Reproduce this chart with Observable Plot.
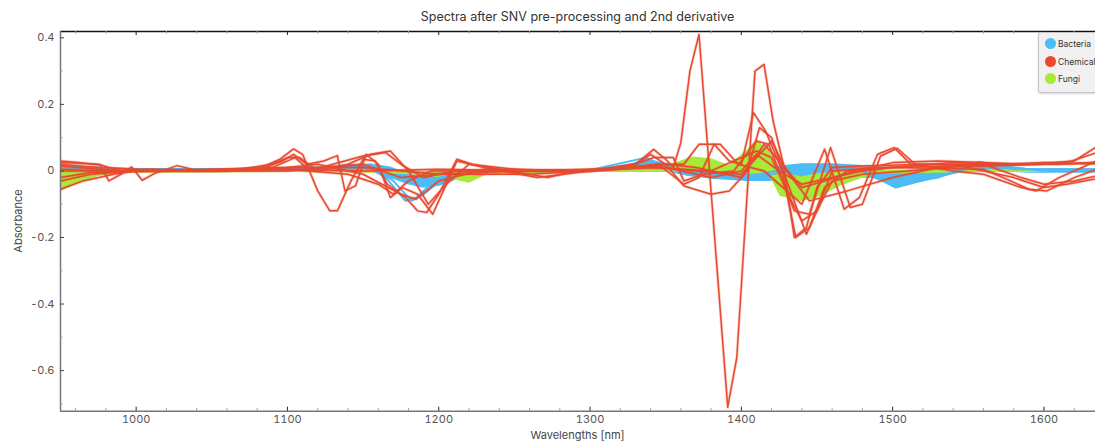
<!DOCTYPE html>
<html><head><meta charset="utf-8">
<script src="https://cdn.jsdelivr.net/npm/d3@7"></script>
<script src="https://cdn.jsdelivr.net/npm/@observablehq/plot@0.6"></script>
<style>
html,body{margin:0;padding:0;background:#fff;overflow:hidden;}
#wrap{position:relative;width:1095px;height:443px;overflow:hidden;font-family:Inter,"Open Sans",sans-serif;}
#chart{position:absolute;left:0;top:0;}
#chart svg{max-width:none !important;}
#title{position:absolute;left:0;width:1155px;top:9px;text-align:center;font-size:12.5px;color:#333;}
#xlab{position:absolute;left:0;width:1155px;top:428px;text-align:center;font-size:11px;color:#444;}
#ylab{position:absolute;left:18px;top:221px;font-size:11px;color:#444;transform:translate(-50%,-50%) rotate(-90deg);white-space:nowrap;}
#legend{position:absolute;left:1038px;top:32px;width:90px;height:59px;background:#f1f1f1;border:1px solid #c4c4c4;border-radius:3px;box-shadow:0 1px 2px rgba(0,0,0,0.15);}
.item{position:absolute;left:6px;height:12px;font-size:8.5px;color:#333;line-height:12px;white-space:nowrap;}
.dot{display:inline-block;width:11px;height:11px;border-radius:50%;vertical-align:middle;margin-right:2px;position:relative;top:-1px;}
</style></head>
<body><div id="wrap">
<div id="chart"></div>
<div id="title">Spectra after SNV pre-processing and 2nd derivative</div>
<div id="xlab">Wavelengths [nm]</div>
<div id="ylab">Absorbance</div>
<div id="legend"></div>
</div>
<script>
// ---- categories & colours ----
const categories = ["Bacteria", "Chemical", "Fungi"];
const colors = ["#4dbcf6", "#e8492f", "#a8ea38"];

// ---- axis ticks / domains ----
const xDomain = [950, 1650];
const yDomain = [-0.722, 0.419];
const xMajor = [1000, 1100, 1200, 1300, 1400, 1500, 1600];
const xMinor = [960, 980, 1020, 1040, 1060, 1080, 1120, 1140, 1160, 1180, 1220, 1240, 1260, 1280, 1320, 1340, 1360, 1380, 1420, 1440, 1460, 1480, 1520, 1540, 1560, 1580, 1620, 1640];
const yMajor = [0.4, 0.2, 0, -0.2, -0.4, -0.6];
const yMinor = [0.3, 0.1, -0.1, -0.3, -0.5, -0.7];

// ---- Bacteria envelope (many overlapping spectra) ----
const bactW  = [950, 970, 1000, 1100, 1140, 1155, 1168, 1180, 1190, 1200, 1215, 1240, 1300, 1325, 1338, 1350, 1365, 1385, 1405, 1420, 1440, 1460, 1478, 1487, 1495, 1501, 1512, 1525, 1540, 1550, 1558, 1570, 1590, 1650];
const bactHi = [0.015, 0.01, 0.005, 0.005, 0.01, 0.02, 0.01, -0.01, -0.02, -0.012, -0.003, 0.0, 0.003, 0.015, 0.035, 0.02, 0.01, 0.0, 0.0, 0.01, 0.02, 0.02, 0.015, 0.008, 0.0, -0.01, -0.005, 0.0, 0.01, 0.02, 0.027, 0.015, 0.005, 0.005];
const bactLo = [0.0, -0.003, -0.003, -0.003, 0.0, 0.0, -0.02, -0.04, -0.05, -0.045, -0.02, -0.005, -0.003, 0.0, 0.01, 0.0, -0.015, -0.025, -0.03, -0.03, -0.025, -0.025, -0.02, -0.02, -0.035, -0.05, -0.04, -0.025, -0.01, 0.0, 0.005, 0.0, -0.005, -0.005];

// ---- Fungi envelope ----
const fungW  = [950, 960, 975, 990, 1100, 1160, 1190, 1210, 1220, 1232, 1300, 1340, 1355, 1368, 1380, 1392, 1404, 1410, 1418, 1426, 1440, 1450, 1465, 1480, 1490, 1560, 1650];
const fungHi = [0.02, 0.01, 0.003, 0.002, 0.003, 0.0, -0.003, -0.003, -0.005, -0.002, 0.003, 0.005, 0.02, 0.04, 0.035, 0.015, 0.06, 0.09, 0.06, -0.005, -0.02, -0.01, -0.005, -0.005, 0.0, 0.002, 0.002];
const fungLo = [-0.06, -0.04, -0.015, -0.005, -0.003, -0.005, -0.012, -0.025, -0.035, -0.01, -0.002, -0.003, -0.003, 0.0, -0.005, -0.01, -0.01, -0.01, -0.005, -0.075, -0.09, -0.08, -0.045, -0.02, -0.008, -0.003, -0.003];

// ---- Bacteria single spectra ----
const bact1 = [[950,0.015],[1000,0.005],[1100,0.005],[1150,0.02],[1165,-0.02],[1178,-0.09],[1185,-0.08],[1200,-0.02],[1230,0.0],[1300,0.003],[1337,0.04],[1350,0.01],[1380,-0.015],[1420,-0.01],[1440,0.01],[1480,0.0],[1500,-0.045],[1530,-0.02],[1558,0.025],[1580,0.005],[1650,0.005]];
const bact2 = [[950,0.01],[1000,0.003],[1100,0.004],[1155,0.015],[1170,-0.03],[1182,-0.09],[1190,-0.07],[1205,-0.015],[1240,0.0],[1300,0.0],[1340,0.03],[1360,0.0],[1400,-0.02],[1440,0.015],[1485,0.005],[1502,-0.05],[1535,-0.01],[1560,0.02],[1600,0.0],[1650,0.0]];

// ---- Chemical spectra ----
const chem1 = [[950,0.005],[980,0.0],[1050,0.0],[1100,0.005],[1150,0.0],[1200,0.005],[1260,0.0],[1310,0.005],[1330,0.02],[1342,0.065],[1350,0.035],[1355,0.01],[1360,0.085],[1366,0.30],[1372,0.41],[1391,-0.71],[1397,-0.56],[1409,0.30],[1415,0.32],[1421,0.15],[1428,0.015],[1435,-0.2],[1443,-0.17],[1450,-0.05],[1460,0.01],[1480,0.015],[1520,0.02],[1560,0.015],[1600,0.02],[1650,0.025]];
const chem2 = [[950,0.03],[962,0.025],[976,0.018],[982,-0.03],[990,-0.01],[997,0.012],[1004,-0.028],[1012,-0.008],[1027,0.016],[1040,0.002],[1080,0.005],[1095,0.035],[1104,0.066],[1110,0.05],[1120,-0.06],[1128,-0.12],[1133,-0.12],[1142,-0.03],[1150,0.035],[1158,0.03],[1166,-0.04],[1178,-0.08],[1186,-0.12],[1192,-0.125],[1200,-0.07],[1212,0.035],[1222,0.02],[1240,0.005],[1272,-0.02],[1290,0.0],[1330,0.01],[1345,0.02],[1362,-0.04],[1372,-0.02],[1382,0.08],[1392,0.03],[1400,0.02],[1408,0.175],[1416,0.12],[1427,0.0],[1436,-0.2],[1445,-0.17],[1455,-0.05],[1470,0.0],[1500,0.01],[1560,0.005],[1578,-0.03],[1590,-0.055],[1602,-0.06],[1620,-0.02],[1650,0.03]];
const chem3 = [[950,-0.055],[965,-0.03],[985,-0.01],[1000,0.0],[1050,0.002],[1085,0.01],[1097,0.03],[1104,0.05],[1113,0.02],[1124,0.03],[1133,0.046],[1138,-0.06],[1145,-0.045],[1152,0.05],[1160,0.02],[1168,-0.08],[1176,-0.05],[1186,-0.07],[1196,-0.13],[1203,-0.06],[1212,0.03],[1230,0.01],[1265,-0.02],[1300,0.0],[1330,0.02],[1340,0.05],[1350,0.02],[1362,-0.045],[1380,-0.07],[1392,-0.06],[1404,0.0],[1412,0.13],[1420,0.1],[1430,-0.03],[1443,-0.19],[1450,-0.12],[1460,0.0],[1490,0.01],[1550,0.015],[1590,0.02],[1620,0.03],[1634,0.07],[1650,0.08]];
const chem4 = [[950,0.02],[975,0.01],[1000,0.005],[1050,0.0],[1100,0.01],[1120,0.02],[1150,-0.01],[1175,-0.07],[1185,-0.085],[1200,-0.03],[1230,0.005],[1300,0.0],[1345,0.02],[1362,0.02],[1372,0.08],[1386,0.08],[1398,0.02],[1415,0.0],[1430,-0.06],[1440,-0.1],[1455,0.065],[1468,-0.115],[1478,-0.08],[1490,0.05],[1501,0.07],[1512,0.02],[1540,0.02],[1570,0.02],[1600,0.025],[1650,0.02]];
const chem5 = [[950,0.015],[990,0.0],[1060,0.0],[1090,0.02],[1100,0.04],[1108,0.04],[1120,0.0],[1140,0.02],[1155,0.05],[1168,0.06],[1180,0.0],[1193,-0.1],[1205,-0.04],[1220,0.02],[1260,0.0],[1300,0.0],[1330,0.02],[1342,0.04],[1355,0.04],[1362,-0.03],[1375,-0.01],[1395,0.0],[1410,0.09],[1418,0.08],[1425,0.0],[1435,-0.12],[1445,-0.13],[1459,0.07],[1472,-0.11],[1480,-0.1],[1492,0.045],[1503,0.068],[1515,0.02],[1540,0.0],[1560,-0.01],[1585,-0.05],[1595,-0.06],[1610,-0.02],[1630,0.02],[1650,0.06]];
const chem6 = [[950,0.0],[1000,0.0],[1100,0.01],[1150,0.01],[1200,-0.01],[1250,0.0],[1300,0.005],[1350,0.01],[1380,-0.02],[1400,0.0],[1410,0.05],[1425,0.0],[1440,-0.04],[1460,-0.02],[1480,0.0],[1500,0.01],[1540,0.025],[1580,0.02],[1610,0.02],[1650,0.03]];
const chem7 = [[950,-0.02],[970,-0.005],[1000,0.0],[1100,0.0],[1150,0.02],[1175,-0.02],[1200,-0.01],[1260,-0.01],[1300,0.0],[1340,0.015],[1370,0.0],[1400,-0.01],[1420,0.09],[1430,0.0],[1445,-0.09],[1470,-0.06],[1500,-0.02],[1530,0.01],[1560,0.02],[1585,-0.02],[1600,-0.04],[1620,-0.03],[1650,0.0]];
const chem8 = [[950,0.025],[975,0.02],[990,0.0],[1010,0.005],[1040,0.0],[1090,0.01],[1105,0.04],[1115,0.0],[1130,0.02],[1150,0.045],[1165,0.055],[1175,0.02],[1190,-0.02],[1210,0.0],[1250,0.005],[1300,0.0],[1330,0.01],[1350,0.02],[1370,0.01],[1400,-0.02],[1415,0.08],[1425,0.03],[1440,-0.05],[1455,-0.03],[1475,0.0],[1500,0.025],[1530,0.03],[1560,0.025],[1590,0.02],[1615,0.025],[1635,0.055],[1650,0.06]];
const chem9 = [[950,-0.03],[970,-0.01],[1000,0.0],[1100,0.005],[1140,-0.01],[1160,-0.04],[1170,-0.07],[1180,-0.03],[1195,0.0],[1250,0.0],[1300,0.0],[1340,0.01],[1380,0.0],[1410,0.06],[1420,0.04],[1432,-0.08],[1440,-0.15],[1450,-0.12],[1460,-0.03],[1480,-0.01],[1510,0.0],[1545,0.015],[1580,-0.02],[1600,-0.05],[1615,-0.04],[1650,-0.01]];

// ---- build tidy tables ----
const toRows = (arr, id) => arr.map(([w, v]) => ({w, v, id}));
const bactRows = [...toRows(bact1, "b1"), ...toRows(bact2, "b2")];
const chemSeries = [chem1, chem2, chem3, chem4, chem5, chem6, chem7, chem8, chem9];
const chemRows = chemSeries.flatMap((s, i) => toRows(s, "c" + i));
const bactBand = bactW.map((w, i) => ({w, lo: bactLo[i], hi: bactHi[i]}));
const fungBand = fungW.map((w, i) => ({w, lo: fungLo[i], hi: fungHi[i]}));

const W = 1140, H = 443, mL = 60, mT = 31, mB = 32.3;
const mR = W - (mL + (xDomain[1] - xDomain[0]) * 1.513);
const plotH = H - mT - mB, plotW = W - mL - mR;

const chart = Plot.plot({
  width: W, height: H,
  marginLeft: mL, marginRight: mR, marginTop: mT, marginBottom: mB,
  x: {domain: xDomain, axis: null},
  y: {domain: yDomain, axis: null},
  style: {fontFamily: "Inter, 'Open Sans', sans-serif", fontSize: "11px", color: "#555", background: "transparent", maxWidth: "none"},
  marks: [
    Plot.areaY(bactBand, {x: "w", y1: "lo", y2: "hi", fill: colors[0], stroke: colors[0], strokeWidth: 1.2, clip: true}),
    Plot.areaY(fungBand, {x: "w", y1: "lo", y2: "hi", fill: colors[2], stroke: colors[2], strokeWidth: 1.2, clip: true}),
    Plot.line(bactRows, {x: "w", y: "v", z: "id", stroke: colors[0], strokeWidth: 2, clip: true}),
    Plot.line(chemRows, {x: "w", y: "v", z: "id", stroke: colors[1], strokeWidth: 3, strokeOpacity: 0.25, clip: true}),
    Plot.line(chemRows, {x: "w", y: "v", z: "id", stroke: colors[1], strokeWidth: 1.5, clip: true}),
    // frame lines
    Plot.ruleY([yDomain[1]], {stroke: "#111", strokeWidth: 1.5}),
    Plot.ruleX([xDomain[0]], {stroke: "#777", strokeWidth: 1.5}),
    Plot.ruleY([yDomain[0]], {stroke: "#777", strokeWidth: 1.5}),
    // inward ticks
    Plot.tickX(xMajor, {x: d => d, stroke: "#222", insetTop: plotH - 4}),
    Plot.tickX(xMinor, {x: d => d, stroke: "#999", insetTop: plotH - 2.5}),
    Plot.tickX(xMajor, {x: d => d, stroke: "#222", insetBottom: plotH - 4}),
    Plot.tickX(xMinor, {x: d => d, stroke: "#999", insetBottom: plotH - 2.5}),
    Plot.tickY(yMajor, {y: d => d, stroke: "#444", insetRight: plotW - 4}),
    Plot.tickY(yMinor, {y: d => d, stroke: "#999", insetRight: plotW - 2.5}),
    // tick labels
    Plot.axisX(xMajor, {anchor: "bottom", tickSize: 0, tickPadding: 4, tickFormat: d => String(d), label: null, fill: "#555"}),
    Plot.axisY(yMajor, {anchor: "left", tickSize: 0, tickPadding: 6, tickFormat: d => d === 0 ? "0" : d.toFixed(1), label: null, fill: "#555"})
  ]
});
chart.style.maxWidth = "none";
document.getElementById("chart").appendChild(chart);

const legend = document.getElementById("legend");
categories.forEach((c, i) => {
  const it = document.createElement("div");
  it.className = "item";
  it.style.top = (5 + i * 17.5) + "px";
  it.innerHTML = `<span class="dot" style="background:${colors[i]}"></span>${c}`;
  legend.appendChild(it);
});
</script>
</body></html>
